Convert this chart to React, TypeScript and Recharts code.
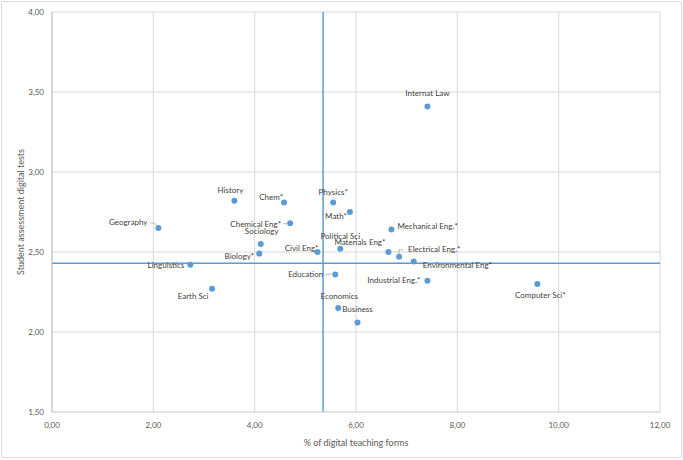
import { ScatterChart, Scatter, XAxis, YAxis, CartesianGrid, ReferenceLine } from 'recharts';

// subject averages: share of digital teaching forms vs. student assessment of digital tests
const subjects = [
  'History', 'Chem*', 'Physics*', 'Math*', 'Geography', 'Chemical Eng*', 'Sociology', 'Biology*',
  'Civil Eng*', 'Political Sci', 'Materials Eng*', 'Linguistics', 'Earth  Sci', 'Education',
  'Economics', 'Business', 'Mechanical Eng.*', 'Electrical Eng.*', 'Environmental Eng*',
  'Industrial Eng.*', 'Computer Sci*', 'Internat Law',
];
const digitalShare = [
  3.6, 4.58, 5.55, 5.88, 2.1, 4.7, 4.12, 4.09,
  5.24, 5.69, 6.64, 2.73, 3.16, 5.59,
  5.65, 6.03, 6.7, 6.85, 7.14,
  7.41, 9.58, 7.41,
];
const testScore = [
  2.82, 2.81, 2.81, 2.75, 2.65, 2.68, 2.55, 2.49,
  2.5, 2.52, 2.5, 2.42, 2.27, 2.36,
  2.15, 2.06, 2.64, 2.47, 2.44,
  2.32, 2.3, 3.41,
];
const meanShare = 5.35;
const meanScore = 2.43;

const xTicks = [0, 2, 4, 6, 8, 10, 12];
const yTicks = [1.5, 2, 2.5, 3, 3.5, 4];

// where each data label sits relative to its point (Excel labels were dragged by hand)
type Placement = { anchor: 'start' | 'middle' | 'end'; dx: number; dy: number; leader?: string };
const placements: Record<string, Placement> = {
  'History': { anchor: 'middle', dx: -4, dy: -10 },
  'Chem*': { anchor: 'end', dx: -1, dy: -4 },
  'Physics*': { anchor: 'middle', dx: 0, dy: -9 },
  'Math*': { anchor: 'end', dx: -3, dy: 5 },
  'Geography': { anchor: 'end', dx: -11, dy: -5, leader: 'M-8,-5 L-4,-5 L-2,-3' },
  'Chemical Eng*': { anchor: 'end', dx: -9, dy: 2, leader: 'M-7,0.5 L-3,0.5' },
  'Sociology': { anchor: 'middle', dx: 1, dy: -12 },
  'Biology*': { anchor: 'end', dx: -5, dy: 3 },
  'Civil Eng*': { anchor: 'end', dx: 1, dy: -3 },
  'Political Sci': { anchor: 'middle', dx: 0, dy: -12 },
  'Materials Eng*': { anchor: 'end', dx: -3, dy: -9 },
  'Linguistics': { anchor: 'end', dx: -6, dy: 1 },
  'Earth  Sci': { anchor: 'middle', dx: -19, dy: 8 },
  'Education': { anchor: 'end', dx: -12, dy: 1, leader: 'M-10,0 L-4,0' },
  'Economics': { anchor: 'middle', dx: 1, dy: -11 },
  'Business': { anchor: 'middle', dx: 0, dy: -12 },
  'Mechanical Eng.*': { anchor: 'start', dx: 6, dy: -3 },
  'Electrical Eng.*': { anchor: 'start', dx: 9, dy: -7, leader: 'M0,-3 L0,-7 L4,-7' },
  'Environmental Eng*': { anchor: 'start', dx: 9, dy: 4 },
  'Industrial Eng.*': { anchor: 'end', dx: -7, dy: 0 },
  'Computer Sci*': { anchor: 'middle', dx: 3, dy: 12 },
  'Internat Law': { anchor: 'middle', dx: 0, dy: -12 },
};

const points = subjects.map((name, i) => ({ name, x: digitalShare[i], y: testScore[i] }));

const FONT = "Lato, 'Liberation Sans', sans-serif";
const BLUE = '#5b9bd5';
const fmt = (v: number) => v.toFixed(2).replace('.', ',');

const PointWithLabel = (props: any) => {
  const { cx, cy, payload } = props;
  if (cx == null || cy == null) return null;
  const p = placements[payload.name] ?? { anchor: 'start', dx: 6, dy: 0 };
  return (
    <g>
      {p.leader && (
        <path d={p.leader} transform={`translate(${cx},${cy})`} fill="none" stroke="#a6a6a6" strokeWidth={0.8} />
      )}
      <circle cx={cx} cy={cy} r={3} fill={BLUE} />
      <text
        x={cx + p.dx}
        y={cy + p.dy}
        textAnchor={p.anchor}
        dominantBaseline="middle"
        fontSize={8}
        fontFamily={FONT}
        fill="#404040"
      >
        {payload.name}
      </text>
    </g>
  );
};

export default function App() {
  return (
    <div style={{ position: 'absolute', left: 0, top: 0, width: 683, height: 460, background: '#fff' }}>
      <div
        style={{
          position: 'absolute', left: 1, top: 1, width: 679, height: 455,
          border: '1px solid #d9d9d9', borderRadius: 2,
        }}
      />
      <ScatterChart width={683} height={460} margin={{ top: 12, right: 23, bottom: 0, left: 0 }}>
        <CartesianGrid stroke="#d9d9d9" />
        <XAxis
          dataKey="x"
          type="number"
          domain={[0, 12]}
          ticks={xTicks}
          tickFormatter={fmt}
          height={48}
          tickLine={false}
          axisLine={{ stroke: '#d9d9d9' }}
          tickMargin={4}
          tick={{ fill: '#595959', fontSize: 8, fontFamily: FONT }}
          label={{
            value: '% of digital teaching forms',
            position: 'insideBottom',
            offset: 14,
            fill: '#595959',
            fontSize: 9,
            fontFamily: FONT,
          }}
        />
        <YAxis
          dataKey="y"
          type="number"
          domain={[1.5, 4]}
          ticks={yTicks}
          tickFormatter={fmt}
          width={52}
          tickLine={false}
          axisLine={{ stroke: '#bfbfbf' }}
          tick={{ fill: '#595959', fontSize: 8, fontFamily: FONT }}
          label={{
            content: (lp: any) => {
              const vb = lp.viewBox ?? { x: 0, y: 12, width: 52, height: 400 };
              const tx = vb.x + 22;
              const ty = vb.y + vb.height / 2;
              return (
                <text
                  x={tx}
                  y={ty}
                  transform={`rotate(-90 ${tx} ${ty})`}
                  textAnchor="middle"
                  dominantBaseline="middle"
                  fontSize={9}
                  fontFamily={FONT}
                  fill="#595959"
                >
                  Student assessment digital tests
                </text>
              );
            },
          }}
        />
        <ReferenceLine x={meanShare} stroke={BLUE} strokeWidth={1.5} />
        <ReferenceLine y={meanScore} stroke={BLUE} strokeWidth={1.5} />
        <Scatter data={points} fill={BLUE} shape={PointWithLabel} isAnimationActive={false} />
      </ScatterChart>
    </div>
  );
}
